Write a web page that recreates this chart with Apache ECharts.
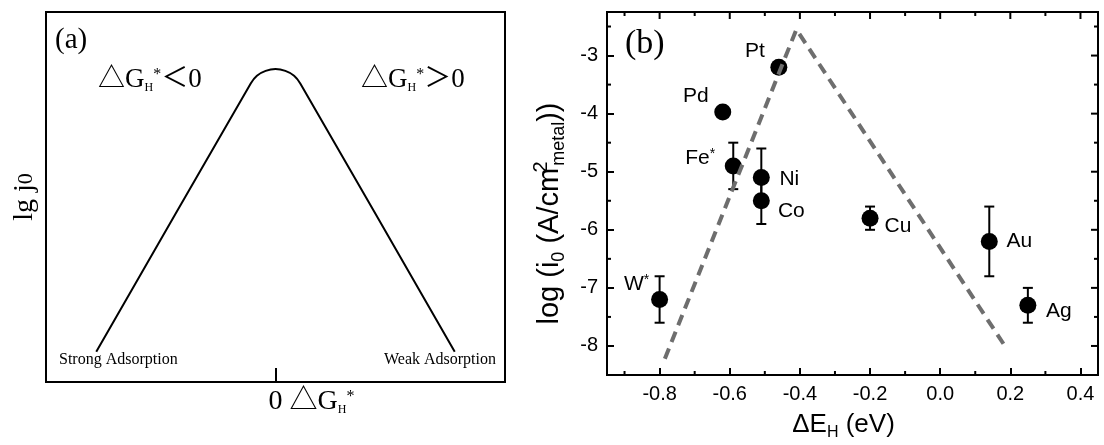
<!DOCTYPE html>
<html>
<head>
<meta charset="utf-8">
<script src="https://cdn.jsdelivr.net/npm/echarts@6/dist/echarts.min.js"></script>
<style>
  html, body { margin: 0; padding: 0; background: #fff; }
  #chart { width: 1104px; height: 445px; }
</style>
</head>
<body>
<div id="chart"></div>
<script>
// ---- panel (a): schematic volcano curve ----
const volcanoX = [-0.781, -0.108, -0.081, -0.043, 0.0, 0.043, 0.081, 0.108, 0.781];
const volcanoY = [0.082, 0.807, 0.828, 0.841, 0.846, 0.841, 0.828, 0.807, 0.082];

// ---- panel (b): exchange current vs. hydrogen binding energy ----
const metals = ["W*", "Pd", "Pt", "Fe*", "Ni", "Co", "Cu", "Au", "Ag"];
const deltaEH = [-0.80, -0.62, -0.46, -0.59, -0.51, -0.51, -0.20, 0.14, 0.25];
const logI0 = [-7.2, -3.97, -3.2, -4.9, -5.1, -5.5, -5.8, -6.2, -7.3];
const errLow = [-7.6, null, null, -5.3, -5.6, -5.9, -6.0, -6.8, -7.6];
const errHigh = [-6.8, null, null, -4.5, -4.6, -5.1, -5.6, -5.6, -7.0];
const trendX = [-0.785, -0.41, 0.19];
const trendY = [-8.22, -2.55, -8.05];

const xMajor = [-0.8, -0.6, -0.4, -0.2, 0.0, 0.2, 0.4];
const xMinor = [-0.9, -0.7, -0.5, -0.3, -0.1, 0.1, 0.3];
const yMajor = [-8, -7, -6, -5, -4, -3];
const yMinor = [-7.5, -6.5, -5.5, -4.5, -3.5, -2.5];

// label placement next to each marker (pixels, relative to marker centre)
const labelOffset = {
  "W*": [-23, -15], "Pd": [-27, -16], "Pt": [-24, -16], "Fe*": [-33, -8],
  "Ni": [28, 2], "Co": [30, 10], "Cu": [28, 8], "Au": [30, 0], "Ag": [31, 6],
};

const SERIF = "'Liberation Serif', 'Noto Sans CJK SC', serif";
const SANS = "'Liberation Sans', Arial, sans-serif";
const MAJOR_LEN = 7, MINOR_LEN = 4;

// rich text pieces: shift is how far a sub/sup token moves off the line centre
function main(family, size, lh) {
  return { fontFamily: family, fontSize: size, lineHeight: lh, color: "#000" };
}
function sub(family, size, lh, shift) {
  return { fontFamily: family, fontSize: size, lineHeight: lh, color: "#000", padding: [shift * 2, 0, 0, 0] };
}
function sup(family, size, lh, shift) {
  return { fontFamily: family, fontSize: size, lineHeight: lh, color: "#000", padding: [0, 0, shift * 2, 0] };
}

const serifRich = {
  m: main(SERIF, 27, 40),
  s: sub(SERIF, 12, 40, 8),
  u: sup(SERIF, 16, 40, 5),
};

const chart = echarts.init(document.getElementById("chart"), null, { renderer: "canvas" });

const B_XMIN = -0.95, B_XMAX = 0.45, B_YMIN = -8.5, B_YMAX = -2.25;
const tickStyle = { color: "#000", width: 2 };

const errData = [];
metals.forEach((m, i) => {
  if (errLow[i] != null) errData.push([deltaEH[i], errLow[i], errHigh[i]]);
});

const pointData = metals.map((m, i) => ({
  name: m,
  value: [deltaEH[i], logI0[i]],
  label: { offset: labelOffset[m] },
}));

chart.setOption({
  backgroundColor: "#fff",
  animation: false,
  grid: [
    { left: 46, top: 12, right: 599, bottom: 63, show: true, borderColor: "#000", borderWidth: 2,
      backgroundColor: "transparent", outerBoundsMode: "none" },
    { left: 607, top: 12, right: 6, bottom: 70, show: true, borderColor: "#000", borderWidth: 2,
      backgroundColor: "transparent", outerBoundsMode: "none" },
  ],
  xAxis: [
    {
      type: "value", gridIndex: 0, min: -1, max: 1,
      axisLine: { show: false, onZero: false },
      splitLine: { show: false },
      axisTick: { show: true, inside: true, length: 14, customValues: [0], lineStyle: tickStyle },
      axisLabel: {
        show: true, customValues: [0], margin: 0,
        formatter: () => "{p|}{m|0 △G}{s|H}{u|*}",
        rich: {
          p: { width: 72, lineHeight: 40 },
          m: main(SERIF, 28, 40), s: sub(SERIF, 12, 40, 8), u: sup(SERIF, 16, 40, 5),
        },
      },
    },
    {
      type: "value", gridIndex: 1, position: "bottom", min: B_XMIN, max: B_XMAX,
      axisLine: { show: false, onZero: false },
      splitLine: { show: false },
      axisTick: { show: true, inside: true, length: MAJOR_LEN, customValues: xMajor, lineStyle: tickStyle },
      axisLabel: {
        show: true, customValues: xMajor, margin: 9, color: "#000", fontFamily: SANS, fontSize: 20,
        formatter: (v) => v.toFixed(1),
      },
      name: "{m|ΔE}{s|H}{m| (eV)}{p|}",
      nameLocation: "middle",
      nameGap: 33,
      nameTextStyle: {
        rich: { m: main(SANS, 26, 34), s: sub(SANS, 16, 34, 8), p: { width: 18, lineHeight: 34 } },
      },
    },
  ],
  yAxis: [
    {
      type: "value", gridIndex: 0, min: 0, max: 1,
      axisLine: { show: false, onZero: false }, axisTick: { show: false },
      axisLabel: { show: false }, splitLine: { show: false },
      name: "{m|lg j}{z|0}",
      nameLocation: "middle", nameRotate: 90, nameGap: 6,
      nameTextStyle: {
        rich: { m: main(SERIF, 28, 30), z: sub(SERIF, 22, 30, 1) },
      },
    },
    {
      type: "value", gridIndex: 1, position: "left", min: B_YMIN, max: B_YMAX,
      axisLine: { show: false, onZero: false },
      splitLine: { show: false },
      axisTick: { show: true, inside: true, length: MAJOR_LEN, customValues: yMajor, lineStyle: tickStyle },
      axisLabel: {
        show: true, customValues: yMajor, margin: 9, color: "#000", fontFamily: SANS, fontSize: 20,
        formatter: (v) => String(Math.round(v)),
      },
      name: "{m|log (i}{s|0}{m| (A/cm}{t|2}{s|metal}{m|))}{p|}",
      nameLocation: "middle",
      nameRotate: 90,
      nameGap: 38,
      nameTextStyle: {
        rich: {
          m: main(SANS, 29, 38),
          s: sub(SANS, 18, 38, 9),
          t: Object.assign(sup(SANS, 20, 38, 9), { width: 2, align: "left" }),
          p: { width: 40, lineHeight: 38 },
        },
      },
    },
  ],
  series: [
    {
      type: "line", xAxisIndex: 0, yAxisIndex: 0,
      data: volcanoX.map((x, i) => [x, volcanoY[i]]),
      smooth: 0.2, symbol: "none",
      lineStyle: { color: "#000", width: 2 },
    },
    {
      type: "custom", xAxisIndex: 1, yAxisIndex: 1, z: 2,
      data: errData,
      encode: { x: 0, y: [1, 2] },
      renderItem: (params, api) => {
        const lo = api.coord([api.value(0), api.value(1)]);
        const hi = api.coord([api.value(0), api.value(2)]);
        const cap = 5;
        const st = { stroke: "#000", lineWidth: 2 };
        return {
          type: "group",
          children: [
            { type: "line", shape: { x1: lo[0], y1: lo[1], x2: hi[0], y2: hi[1] }, style: st },
            { type: "line", shape: { x1: lo[0] - cap, y1: lo[1], x2: lo[0] + cap, y2: lo[1] }, style: st },
            { type: "line", shape: { x1: hi[0] - cap, y1: hi[1], x2: hi[0] + cap, y2: hi[1] }, style: st },
          ],
        };
      },
    },
    {
      type: "scatter", xAxisIndex: 1, yAxisIndex: 1, z: 3,
      data: pointData,
      symbol: "circle", symbolSize: 17,
      itemStyle: { color: "#000", opacity: 1 },
      label: {
        show: true, position: "inside", color: "#000",
        fontFamily: SANS, fontSize: 21,
        formatter: (p) => p.name.replace("*", "{st|*}"),
        rich: { st: { fontFamily: SANS, fontSize: 14, color: "#000", padding: [0, 0, 8, 0] } },
      },
      emphasis: { disabled: true },
    },
    {
      type: "line", xAxisIndex: 1, yAxisIndex: 1, z: 4,
      data: trendX.map((x, i) => [x, trendY[i]]),
      symbol: "none",
      lineStyle: { color: "#6e6e6e", width: 4, type: [11, 7] },
    },
  ],
});

// mirrored / minor frame ticks of panel (b), placed through its scales
function frameTick(x, y, dx, dy, len) {
  const p = chart.convertToPixel({ gridIndex: 1 }, [x, y]);
  return {
    type: "line", z: 50,
    shape: { x1: p[0], y1: p[1], x2: p[0] + dx * len, y2: p[1] + dy * len },
    style: { stroke: "#000", lineWidth: 2 },
  };
}
const ticks = [];
xMinor.forEach((v) => ticks.push(frameTick(v, B_YMIN, 0, -1, MINOR_LEN)));
xMajor.forEach((v) => ticks.push(frameTick(v, B_YMAX, 0, 1, MAJOR_LEN)));
xMinor.forEach((v) => ticks.push(frameTick(v, B_YMAX, 0, 1, MINOR_LEN)));
yMinor.forEach((v) => ticks.push(frameTick(B_XMIN, v, 1, 0, MINOR_LEN)));
yMajor.forEach((v) => ticks.push(frameTick(B_XMAX, v, -1, 0, MAJOR_LEN)));
yMinor.forEach((v) => ticks.push(frameTick(B_XMAX, v, -1, 0, MINOR_LEN)));

const texts = [
  { type: "text", x: 55, y: 40, style: { text: "(a)", font: "29px " + SERIF, fill: "#000", verticalAlign: "middle" } },
  { type: "text", x: 98, y: 80, style: { text: "{m|△G}{s|H}{u|*}{m|＜0}", rich: serifRich, verticalAlign: "middle", align: "left" } },
  { type: "text", x: 361, y: 80, style: { text: "{m|△G}{s|H}{u|*}{m|＞0}", rich: serifRich, verticalAlign: "middle", align: "left" } },
  { type: "text", x: 59, y: 360, style: { text: "Strong Adsorption", font: "16px " + SERIF, fill: "#000", verticalAlign: "middle" } },
  { type: "text", x: 496, y: 360, style: { text: "Weak Adsorption", font: "16px " + SERIF, fill: "#000", verticalAlign: "middle", align: "right" } },
  { type: "text", x: 625, y: 44, style: { text: "(b)", font: "34px " + SERIF, fill: "#000", verticalAlign: "middle" } },
];

chart.setOption({ graphic: texts.concat(ticks) });
</script>
</body>
</html>
